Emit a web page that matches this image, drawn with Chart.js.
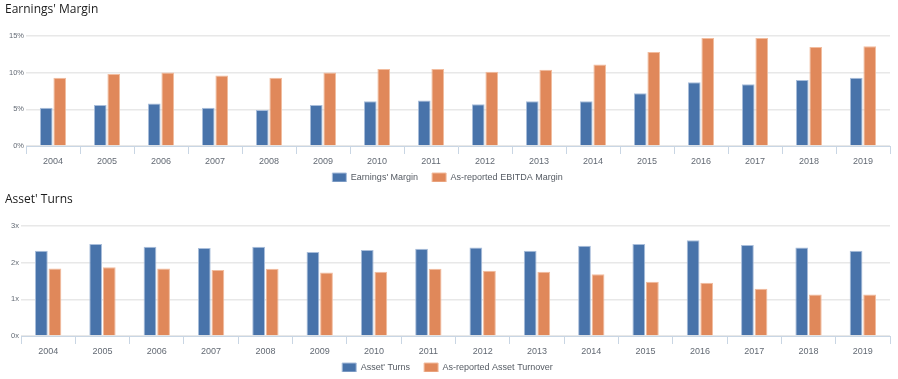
<!DOCTYPE html>
<html>
<head>
<meta charset="utf-8">
<script src="https://cdn.jsdelivr.net/npm/chart.js@4"></script>
<style>
  html, body { margin: 0; padding: 0; background: #fff; overflow: hidden; }
  .box { position: absolute; left: 0; width: 898px; height: 190px; }
  #b1 { top: 0; }
  #b2 { top: 190px; }
</style>
</head>
<body>
<div class="box" id="b1"><canvas id="c1"></canvas></div>
<div class="box" id="b2"><canvas id="c2"></canvas></div>
<script>
const years = ['2004','2005','2006','2007','2008','2009','2010','2011','2012','2013','2014','2015','2016','2017','2018','2019'];

const earningsMargin = [5.2, 5.6, 5.8, 5.2, 4.9, 5.6, 6.1, 6.2, 5.7, 6.1, 6.1, 7.2, 8.7, 8.4, 9.0, 9.3];
const ebitdaMargin   = [9.3, 9.8, 10.0, 9.6, 9.3, 10.0, 10.5, 10.5, 10.1, 10.4, 11.1, 12.8, 14.7, 14.7, 13.5, 13.6];

const assetTurns     = [2.32, 2.51, 2.43, 2.40, 2.43, 2.29, 2.34, 2.38, 2.41, 2.32, 2.46, 2.51, 2.61, 2.48, 2.41, 2.32];
const assetTurnover  = [1.84, 1.87, 1.84, 1.80, 1.83, 1.73, 1.75, 1.83, 1.78, 1.75, 1.68, 1.48, 1.45, 1.29, 1.13, 1.13];

const marginTicks = [0, 5, 10, 15];
const turnTicks = [0, 1, 2, 3];

const BLUE = '#4873aa', BLUE_B = '#a9bedb';
const ORANGE = '#e0885a', ORANGE_B = '#f2bc9e';
const TICK_COLOR = '#636a74';

// keep the legend compact so it sits right under the axis labels
const legendFit = {
  id: 'legendFit',
  beforeLayout(chart) {
    const lg = chart.legend;
    if (lg && !lg._wrapped) {
      const orig = lg.fit;
      lg.fit = function () { orig.call(this); this.height = 23; };
      lg._wrapped = true;
    }
  },
  afterLayout(chart) {
    const lg = chart.legend;
    if (lg) { lg.top -= 8; lg.bottom -= 8; }
  }
};

function makeChart(id, title, names, a, b, ticks, fmt, yWidth) {
  return new Chart(document.getElementById(id), {
    type: 'bar',
    data: {
      labels: years,
      datasets: [
        { label: names[0], data: a, backgroundColor: BLUE, borderColor: BLUE_B, borderWidth: 1, borderSkipped: 'bottom' },
        { label: names[1], data: b, backgroundColor: ORANGE, borderColor: ORANGE_B, borderWidth: 1, borderSkipped: 'bottom' }
      ]
    },
    plugins: [legendFit],
    options: {
      responsive: true,
      maintainAspectRatio: false,
      animation: false,
      datasets: { bar: { categoryPercentage: 0.5, barPercentage: 0.94 } },
      layout: { padding: { left: 5, right: 8, top: 0, bottom: 0 } },
      plugins: {
        title: {
          display: true, text: title, align: 'start', color: '#1a1a1a',
          font: { family: 'Open Sans', size: 12, weight: 'normal' },
          padding: { top: 2.5, bottom: 19 }
        },
        legend: {
          position: 'bottom',
          labels: {
            boxWidth: 14, boxHeight: 9, padding: 14, color: '#555b63',
            font: { family: 'Liberation Sans', size: 9 }
          }
        },
        tooltip: { enabled: false }
      },
      scales: {
        x: {
          afterFit: s => { s.height = 21; },
          grid: { display: true, offset: true, drawOnChartArea: false, drawTicks: true, tickLength: 8, color: '#c9d6e4' },
          border: { color: '#c9d6e4', width: 1 },
          ticks: { color: TICK_COLOR, font: { family: 'Liberation Sans', size: 9 }, padding: 2, maxRotation: 0 }
        },
        y: {
          min: ticks[0], max: ticks[ticks.length - 1],
          afterBuildTicks: s => { s.ticks = ticks.map(v => ({ value: v })); },
          afterFit: s => { s.width = yWidth; },
          grid: { color: '#e8e8e8', lineWidth: 1.5, drawTicks: false },
          border: { display: false },
          ticks: { color: TICK_COLOR, font: { family: 'Liberation Sans', size: 7.5 }, padding: 2, callback: v => fmt(v) }
        }
      }
    }
  });
}

makeChart('c1', "Earnings' Margin", ["Earnings' Margin", 'As-reported EBITDA Margin'], earningsMargin, ebitdaMargin, marginTicks, v => v + '%', 21);
makeChart('c2', "Asset' Turns", ["Asset' Turns", 'As-reported Asset Turnover'], assetTurns, assetTurnover, turnTicks, v => v + 'x', 16);
</script>
</body>
</html>
